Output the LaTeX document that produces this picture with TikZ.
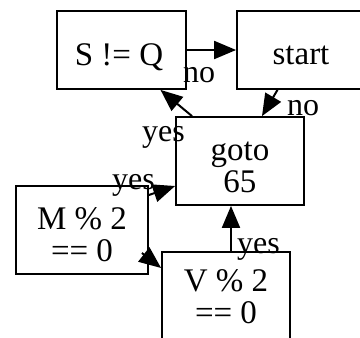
\documentclass[tikz,border=0pt]{standalone}
\usepackage{fontspec}
\setmainfont{Liberation Serif}
\usetikzlibrary{arrows.meta}

\begin{document}
\begin{tikzpicture}[x=1pt, y=-1pt,
	box/.style={draw, line width=1.8pt, inner sep=0pt},
	txt/.style={font=\fontsize{33}{32}\selectfont, align=center, inner sep=0pt},
	lbl/.style={font=\fontsize{32}{32}\selectfont, inner sep=0pt, anchor=base west},
	edge/.style={line width=2pt, -{Triangle[length=22pt, width=18pt]}}
]
\useasboundingbox (0,0) rectangle (360,338);
\clip (0,0) rectangle (360,338);

% boxes
\node[box, minimum width=129pt, minimum height=78pt] (sq) at (121.5,50) {};
\node[box, minimum width=129pt, minimum height=78pt] (start) at (301.5,50) {};
\node[box, minimum width=128pt, minimum height=88pt] (goto) at (240,161) {};
\node[box, minimum width=132pt, minimum height=88pt] (m) at (82,230) {};
\node[box, minimum width=128pt, minimum height=90pt] (v) at (226,297) {};

% texts
\node[txt] (sq-t) at (119,57) {S != Q};
\node[txt] (start-t) at (301,55) {start};
\node[txt] (goto-t) at (240,167) {goto\\65};
\node[txt] (m-t) at (82,235) {M \% 2\\== 0};
\node[txt] (v-t) at (226,297) {V \% 2\\== 0};

% edges
\draw[edge] (sq) -- (start);
\draw[edge] ([xshift=-48pt]goto.north) -- ([xshift=39pt]sq.south);
\draw[edge] ([xshift=-24pt]start.south) -- ([xshift=22pt]goto.north);
\draw[edge] ([yshift=35pt]m.east) -- ([yshift=-25pt]goto.west);
\draw[edge] ([xshift=-7pt, yshift=-23pt]m.east) -- ([yshift=29pt]v.west);
\draw[edge] ([xshift=5pt]v.north) -- ([xshift=-9pt]goto.south);

% labels
\node[lbl] (no1) at (183,82) {no};
\node[lbl] (yes1) at (142,141) {yes};
\node[lbl] (no2) at (287,115) {no};
\node[lbl] (yes2) at (112,189) {yes};
\node[lbl] (yes3) at (237,253) {yes};
\end{tikzpicture}
\end{document}
